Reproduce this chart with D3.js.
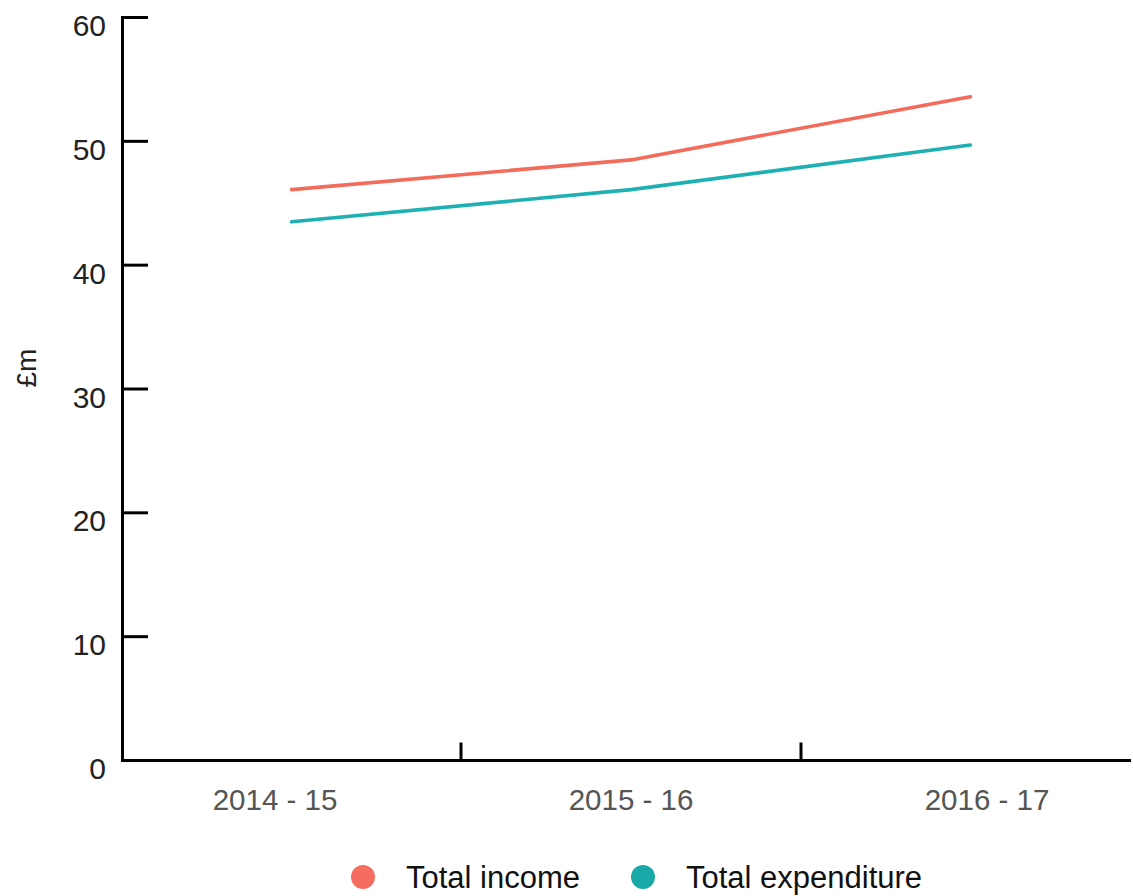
<!DOCTYPE html>
<html>
<head>
<meta charset="utf-8">
<script src="https://cdn.jsdelivr.net/npm/d3@7"></script>
<style>
  html, body { margin: 0; padding: 0; background: #fff; }
  svg { display: block; }
  text { font-family: "Liberation Sans", Arial, Helvetica, sans-serif; }
</style>
</head>
<body>
<svg id="chart" width="1133" height="896"></svg>
<script>
const categories = ["2014 - 15", "2015 - 16", "2016 - 17"];
const seriesNames = ["Total income", "Total expenditure"];
const incomeValues = [46.1, 48.5, 53.6];
const expenditureValues = [43.5, 46.1, 49.7];
const yTicks = [0, 10, 20, 30, 40, 50, 60];
const seriesColors = ["#f26b5b", "#1fb0b4"];
const legendColors = ["#f46d60", "#19a8a8"];

const svg = d3.select("#chart");

const x = d3.scaleBand().domain(categories).range([122, 1140]).paddingInner(0).paddingOuter(0);
const xLabel = d3.scalePoint().domain(categories).range([275, 987]);
const y = d3.scaleLinear().domain([0, 60]).range([760.5, 17.5]);

// Y axis
const yAxis = svg.append("g");
yAxis.append("line").attr("x1", 122.5).attr("x2", 122.5).attr("y1", y(60) - 1.5).attr("y2", y(0) + 1.5)
  .attr("stroke", "#000").attr("stroke-width", 3);
yAxis.selectAll("line.tick").data(yTicks.slice(1)).join("line").attr("class", "tick")
  .attr("x1", 122).attr("x2", 148).attr("y1", d => y(d)).attr("y2", d => y(d))
  .attr("stroke", "#000").attr("stroke-width", 3);
yAxis.selectAll("text").data(yTicks).join("text")
  .attr("x", 106).attr("y", d => y(d) + 18.5)
  .attr("text-anchor", "end").attr("font-size", 30).attr("fill", "#222")
  .text(d => d);

// X axis
const xAxis = svg.append("g");
xAxis.append("line").attr("x1", 121).attr("x2", 1131).attr("y1", y(0)).attr("y2", y(0))
  .attr("stroke", "#000").attr("stroke-width", 3);
xAxis.selectAll("line.tick").data(categories.slice(1)).join("line").attr("class", "tick")
  .attr("x1", d => Math.round(x(d))).attr("x2", d => Math.round(x(d)))
  .attr("y1", y(0)).attr("y2", y(0) - 18)
  .attr("stroke", "#000").attr("stroke-width", 3);
xAxis.selectAll("text").data(categories).join("text")
  .attr("x", d => xLabel(d)).attr("y", 810)
  .attr("text-anchor", "middle").attr("font-size", 29.5).attr("fill", "#555")
  .text(d => d);

// Y title
svg.append("text").attr("transform", "translate(36,368) rotate(-90)")
  .attr("text-anchor", "middle").attr("font-size", 28).attr("fill", "#222").text("£m");

// Lines
const series = [incomeValues, expenditureValues];
const line = d3.line().x((d, i) => x(categories[i]) + x.bandwidth() / 2).y(d => y(d));
svg.selectAll("path.series").data(series).join("path").attr("class", "series")
  .attr("d", d => line(d)).attr("fill", "none")
  .attr("stroke", (d, i) => seriesColors[i]).attr("stroke-width", 3.6)
  .attr("stroke-linecap", "round").attr("stroke-linejoin", "round");

// Legend
const legendX = [363, 643];
const lg = svg.selectAll("g.legend").data(seriesNames).join("g").attr("class", "legend")
  .attr("transform", (d, i) => `translate(${legendX[i]},877)`);
lg.append("circle").attr("r", 12).attr("fill", (d, i) => legendColors[i]);
lg.append("text").attr("x", 43).attr("y", 10.5).attr("font-size", 31).attr("fill", "#111").text(d => d);
</script>
</body>
</html>
